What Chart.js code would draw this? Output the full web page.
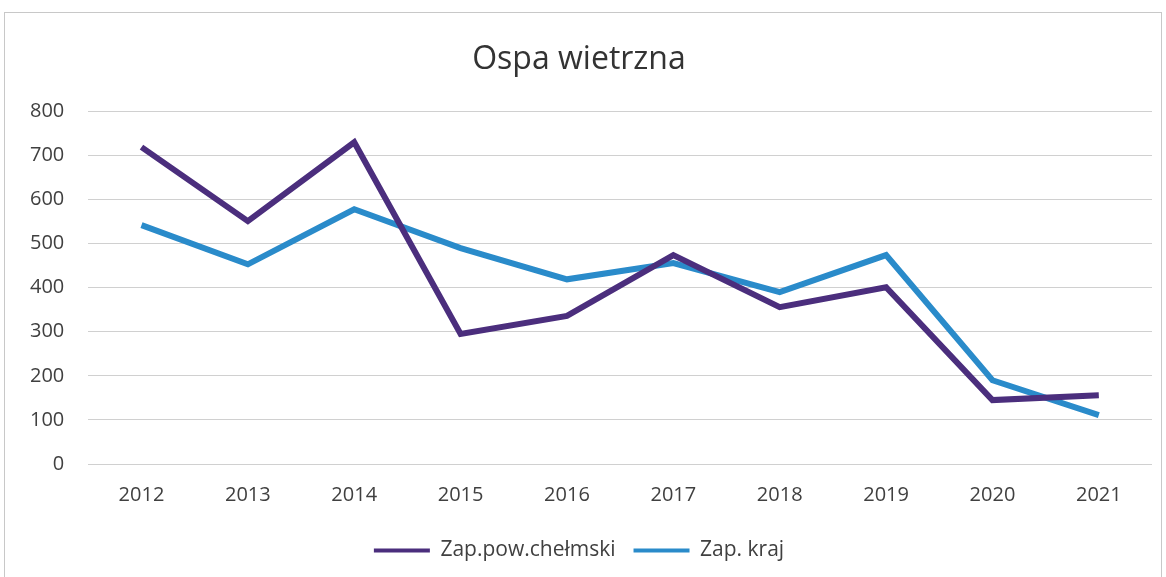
<!DOCTYPE html>
<html>
<head>
<meta charset="utf-8">
<script src="https://cdn.jsdelivr.net/npm/chart.js@4"></script>
<style>
  html, body { margin: 0; padding: 0; background: #fff; }
  #wrap { width: 1166px; height: 577px; position: relative; }
</style>
</head>
<body>
<div id="wrap"><canvas id="chart" width="1166" height="577"></canvas></div>
<script>
const years = ['2012', '2013', '2014', '2015', '2016', '2017', '2018', '2019', '2020', '2021'];
const chelmski = [719, 551, 730, 295, 336, 474, 356, 401, 145, 156];
const kraj = [542, 453, 578, 490, 419, 456, 390, 474, 190, 111];
const seriesNames = ['Zap.pow.chełmski', 'Zap. kraj'];

// thin grey frame around the whole chart, like the scanned original
const frame = {
  id: 'frame',
  beforeDraw(chart) {
    const c = chart.ctx;
    c.save();
    c.strokeStyle = '#c8c8c8';
    c.lineWidth = 1;
    c.strokeRect(4.5, 12.5, 1157, 570);
    c.restore();
  }
};

Chart.defaults.font.family = '"Open Sans", sans-serif';
Chart.defaults.color = '#404040';

new Chart(document.getElementById('chart'), {
  type: 'line',
  data: {
    labels: years,
    datasets: [
      {
        label: seriesNames[0],
        data: chelmski,
        borderColor: '#4B2E7D',
        backgroundColor: '#4B2E7D',
        borderWidth: 6,
        pointRadius: 0,
        tension: 0
      },
      {
        label: seriesNames[1],
        data: kraj,
        borderColor: '#2A8BCA',
        backgroundColor: '#2A8BCA',
        borderWidth: 6,
        pointRadius: 0,
        tension: 0
      }
    ]
  },
  options: {
    responsive: false,
    animation: false,
    layout: { padding: { top: 22, left: 6, right: 14, bottom: 6 } },
    plugins: {
      title: {
        display: true,
        text: 'Ospa wietrzna',
        color: '#333',
        font: { size: 32, weight: 'normal' },
        padding: { top: 19, bottom: 32 }
      },
      legend: {
        position: 'bottom',
        labels: {
          usePointStyle: true,
          pointStyle: 'line',
          pointStyleWidth: 56,
          font: { size: 21 },
          padding: 18,
          generateLabels(chart) {
            return chart.data.datasets.map((ds, i) => ({
              text: ds.label,
              strokeStyle: ds.borderColor,
              fillStyle: ds.borderColor,
              lineWidth: 4,
              pointStyle: 'line',
              fontColor: '#404040',
              datasetIndex: i
            }));
          }
        }
      },
      tooltip: { enabled: false }
    },
    scales: {
      x: {
        offset: true,
        grid: { display: false },
        border: { display: false },
        ticks: { font: { size: 20 }, padding: 11 },
        afterFit(scale) {
          scale.height += 4; // a bit more room between year labels and legend
        }
      },
      y: {
        min: 0,
        max: 800,
        ticks: { stepSize: 100, font: { size: 20 }, padding: 24 },
        border: { display: false },
        grid: { color: '#d0d0d0', lineWidth: 1, drawTicks: false }
      }
    }
  },
  plugins: [frame]
});
</script>
</body>
</html>
